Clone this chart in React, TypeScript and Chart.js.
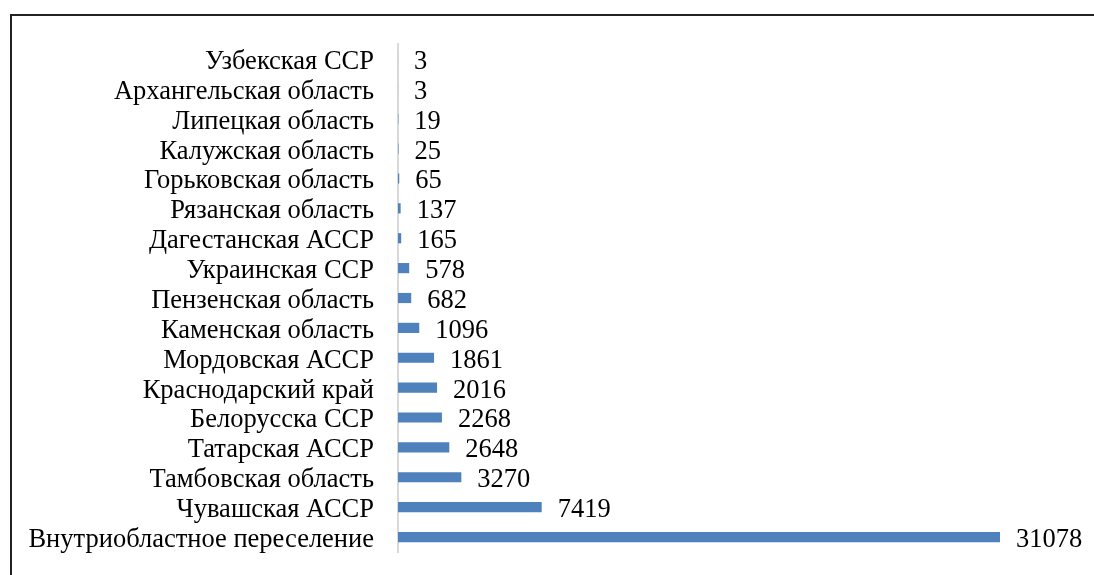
import React, { useEffect, useRef } from "react";
import { Chart, registerables } from "chart.js";

Chart.register(...registerables);

const categories: string[] = [
  "Узбекская ССР",
  "Архангельская область",
  "Липецкая область",
  "Калужская область",
  "Горьковская область",
  "Рязанская область",
  "Дагестанская АССР",
  "Украинская ССР",
  "Пензенская область",
  "Каменская область",
  "Мордовская АССР",
  "Краснодарский край",
  "Белорусска ССР",
  "Татарская АССР",
  "Тамбовская область",
  "Чувашская АССР",
  "Внутриобластное переселение",
];

const values: number[] = [3, 3, 19, 25, 65, 137, 165, 578, 682, 1096, 1861, 2016, 2268, 2648, 3270, 7419, 31078];

const FONT = "'Liberation Serif', 'Times New Roman', serif";
const FONT_SIZE = 26.5;

const valueLabels = {
  id: "valueLabels",
  afterDatasetsDraw(chart: any) {
    const ctx = chart.ctx;
    const meta = chart.getDatasetMeta(0);
    ctx.save();
    ctx.font = `${FONT_SIZE}px ${FONT}`;
    ctx.fillStyle = "#000000";
    ctx.textAlign = "left";
    ctx.textBaseline = "middle";
    meta.data.forEach((bar: any, i: number) => {
      ctx.fillText(String(values[i]), bar.x + 16, bar.y + 3);
    });
    ctx.restore();
  },
};

export default function App() {
  const ref = useRef<HTMLCanvasElement | null>(null);
  useEffect(() => {
    if (!ref.current) return;
    const chart = new Chart(ref.current, {
      type: "bar",
      data: {
        labels: categories,
        datasets: [
          {
            data: values,
            backgroundColor: "#4f81bd",
            borderWidth: 0,
            barPercentage: 0.34,
            categoryPercentage: 1,
          },
        ],
      },
      options: {
        indexAxis: "y",
        responsive: false,
        animation: false,
        layout: { padding: { top: 58, right: 92, bottom: 60, left: 0 } },
        plugins: { legend: { display: false }, tooltip: { enabled: false } },
        scales: {
          x: {
            display: false,
            min: 0,
            max: 31078,
          },
          y: {
            grid: { display: false, drawTicks: false },
            border: { display: true, color: "#d9d9d9", width: 2 },
            ticks: {
              color: "#000000",
              padding: 24,
              autoSkip: false,
              font: { family: FONT, size: FONT_SIZE, lineHeight: "6px" },
              callback: (_v: any, i: number) => ["", categories[i]],
            },
            afterFit(scale: any) {
              scale.width = 386;
            },
          },
        },
      },
      plugins: [valueLabels],
    });
    return () => chart.destroy();
  }, []);

  return (
    <div
      style={{
        position: "absolute",
        left: 10,
        top: 14,
        width: 1100,
        height: 600,
        border: "2px solid #222",
        background: "#fff",
        overflow: "hidden",
      }}
    >
      <canvas
        ref={ref}
        width={1080}
        height={626}
        style={{ display: "block", position: "absolute", left: 0, top: -30 }}
      />
    </div>
  );
}
